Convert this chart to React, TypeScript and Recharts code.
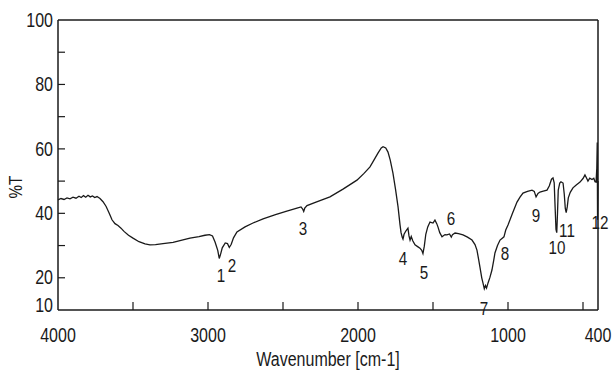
import React from 'react';
import { ComposedChart, Line, XAxis, YAxis, ReferenceLine, ReferenceDot } from 'recharts';

// IR spectrum
const wavenumbers = [
  4000, 3980, 3960, 3940, 3920, 3900, 3880, 3860, 3845, 3830, 3815, 3800, 3785, 3770, 3755, 3740,
  3720, 3700, 3680, 3660, 3640, 3620, 3600, 3580, 3560, 3530, 3500, 3460, 3420, 3387, 3350, 3300,
  3233, 3180, 3120, 3060, 3020, 2990, 2970, 2953, 2935, 2925, 2915, 2905, 2885, 2870, 2858, 2845,
  2830, 2807, 2753, 2700, 2633, 2550, 2480, 2407, 2380, 2370, 2362, 2355, 2340, 2280, 2187, 2100,
  2007, 1960, 1920, 1890, 1867, 1845, 1833, 1815, 1800, 1785, 1767, 1750, 1733, 1720, 1713, 1705,
  1700, 1693, 1680, 1667, 1660, 1653, 1645, 1635, 1620, 1600, 1587, 1575, 1567, 1558, 1548, 1535,
  1520, 1500, 1487, 1475, 1467, 1455, 1440, 1420, 1407, 1390, 1378, 1370, 1353, 1330, 1300, 1270,
  1240, 1220, 1207, 1195, 1187, 1175, 1167, 1158, 1150, 1143, 1133, 1120, 1107, 1095, 1087, 1070,
  1053, 1040, 1027, 1015, 1000, 970, 940, 920, 900, 870, 840, 825, 813, 800, 787, 765,
  740, 725, 710, 700, 692, 686, 680, 675, 670, 665, 655, 647, 633, 625, 618, 612,
  605, 598, 585, 567, 545, 520, 500, 487, 475, 467, 455, 440, 428, 420, 413, 408,
  405, 403, 401, 400,
];

const transmittance = [
  44.2, 44.6, 44.3, 44.8, 44.5, 45.0, 44.7, 45.3, 44.9, 45.5, 45.0, 45.6, 45.1, 45.4, 44.9, 45.2,
  44.6, 43.6, 42.2, 40.2, 38.0, 36.8, 36.2, 35.4, 34.4, 33.2, 32.3, 31.2, 30.5, 30.2, 30.3, 30.6,
  31.0, 31.6, 32.3, 32.8, 33.2, 33.4, 33.0, 31.1, 28.5, 26.0, 27.5, 29.3, 30.8, 30.6, 29.4, 30.4,
  32.4, 34.2, 35.8, 37.0, 38.3, 39.6, 40.6, 41.6, 42.0, 41.4, 40.6, 41.6, 42.4, 43.5, 45.1, 47.5,
  50.3, 52.4, 54.4, 56.8, 58.7, 60.3, 60.7, 60.3, 59.0, 56.5, 52.5, 47.5, 42.0, 36.5, 34.0, 32.6,
  32.0, 33.5, 34.6, 35.4, 33.0, 31.7, 32.8, 31.5, 30.2, 29.6, 29.2, 28.5, 27.5, 29.8, 33.5, 35.8,
  37.3, 37.0, 37.9, 36.8, 35.8, 34.0, 32.7, 33.4, 33.3, 33.6, 32.6, 33.4, 33.9, 33.7, 33.3, 32.6,
  31.7, 30.3, 28.6, 25.5, 23.3, 20.0, 18.4, 16.6, 17.6, 16.8, 18.4, 20.2, 22.4, 25.5, 27.7, 30.0,
  31.7, 32.2, 32.7, 34.8, 36.4, 40.0, 43.5, 45.0, 46.3, 46.8, 47.2, 46.8, 45.1, 46.2, 46.6, 46.9,
  47.2, 48.5, 50.6, 51.0, 49.5, 42.0, 35.0, 34.0, 40.0, 47.2, 49.4, 49.8, 49.4, 46.0, 41.5, 40.2,
  42.0, 44.8, 46.5, 47.9, 48.8, 49.7, 50.8, 51.9, 50.8, 50.0, 50.9, 50.5, 50.9, 49.8, 49.7, 54.0,
  62.0, 38.0, 45.0, 50.0,
];

// numbered band labels and where they sit
const peakNames = ['1', '2', '3', '4', '5', '6', '7', '8', '9', '10', '11', '12'];
const peakWavenumbers = [2913, 2840, 2367, 1700, 1560, 1380, 1160, 1020, 813, 673, 607, 387];
const peakLabelT = [20.9, 24.0, 35.4, 26.1, 21.8, 38.5, 10.6, 27.7, 39.5, 29.5, 34.8, 37.3];

const xTicks = [4000, 3500, 3000, 2500, 2000, 1500, 1000, 500, 400];
const xTickLabels = [4000, 3000, 2000, 1000, 400];
const yTicks = [10, 20, 30, 40, 50, 60, 70, 80, 90, 100];
const yTickLabels = [10, 20, 40, 60, 80, 100];

const FONT = '"Liberation Sans", Arial, sans-serif';
const INK = '#1a1a1a';

const data = wavenumbers.map((w, i) => ({ w, T: transmittance[i] }));

// no narrow font installed, so squeeze the regular one horizontally
const NText = ({ x, y, anchor = 'middle', size = 20, baseline, rotate = 0, children }: any) => (
  <text
    transform={`translate(${x} ${y}) rotate(${rotate}) scale(0.8 1)`}
    textAnchor={anchor}
    dominantBaseline={baseline}
    fontFamily={FONT}
    fontSize={size}
    fill={INK}
  >
    {children}
  </text>
);

const XTick = (props: any) => {
  const { x, y, payload } = props;
  const v = payload.value;
  return (
    <g>
      {v !== 4000 && v !== 400 && <line x1={x} y1={y} x2={x} y2={y - 8} stroke={INK} strokeWidth={1.2} />}
      {xTickLabels.includes(v) && (
        <NText x={x} y={y + 32}>
          {v}
        </NText>
      )}
    </g>
  );
};

const YTick = (props: any) => {
  const { x, y, payload } = props;
  const v = payload.value;
  return (
    <g>
      {v !== 10 && v !== 100 && <line x1={x} y1={y} x2={x + 7} y2={y} stroke={INK} strokeWidth={1.2} />}
      {yTickLabels.includes(v) && (
        <NText x={x - 5} y={v === 10 ? y - 5 : y} anchor="end" baseline="central">
          {v}
        </NText>
      )}
    </g>
  );
};

const App = () => {
  return (
    <div style={{ position: 'absolute', left: 0, top: 0, width: 615, height: 372, background: '#fff' }}>
      <ComposedChart width={615} height={372} data={data} margin={{ top: 20, right: 17, left: 0, bottom: 0 }}>
        <XAxis
          dataKey="w"
          type="number"
          domain={[400, 4000]}
          reversed
          ticks={xTicks}
          interval={0}
          tick={<XTick />}
          tickLine={false}
          tickSize={0}
          tickMargin={0}
          height={62}
          axisLine={{ stroke: INK, strokeWidth: 1.5 }}
          label={{
            content: (p: any) => (
              <NText x={p.viewBox.x + p.viewBox.width / 2} y={366} size={20}>
                Wavenumber [cm-1]
              </NText>
            ),
          }}
        />
        <YAxis
          dataKey="T"
          type="number"
          domain={[10, 100]}
          ticks={yTicks}
          interval={0}
          tick={<YTick />}
          tickLine={false}
          tickSize={0}
          tickMargin={0}
          width={58}
          axisLine={{ stroke: INK, strokeWidth: 1.5 }}
          label={{
            content: (p: any) => (
              <NText x={15} y={p.viewBox.y + p.viewBox.height / 2 + 22} baseline="central" size={19} rotate={-90}>
                %T
              </NText>
            ),
          }}
        />
        <ReferenceLine y={100} stroke={INK} strokeWidth={1.5} />
        <ReferenceLine x={400} stroke={INK} strokeWidth={1.5} />
        <Line dataKey="T" type="linear" stroke={INK} strokeWidth={1.3} dot={false} isAnimationActive={false} />
        {peakNames.map((name, i) => (
          <ReferenceDot
            key={name}
            x={peakWavenumbers[i]}
            y={peakLabelT[i]}
            ifOverflow="visible"
            shape={(p: any) => (
              <NText x={p.cx} y={p.cy} baseline="central" size={19}>
                {name}
              </NText>
            )}
          />
        ))}
      </ComposedChart>
    </div>
  );
};

export default App;
